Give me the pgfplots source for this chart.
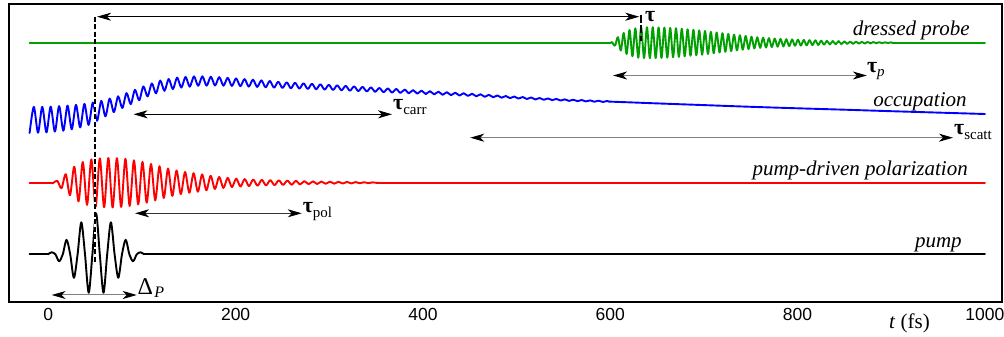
\documentclass[border=0pt]{standalone}
\usepackage{pgfplots}
\pgfplotsset{compat=1.18}
\usepackage{fontspec}
\setmainfont{Liberation Serif}
\newfontfamily\ticksfont{Liberation Sans}
\usetikzlibrary{arrows.meta}
\definecolor{pgreen}{RGB}{0,160,0}
\newcommand{\tausym}{{\fontsize{22}{24}\selectfont\bfseries τ}}
\newcommand{\tausub}[1]{\tausym\raisebox{-4.5pt}{\fontsize{15}{16}\selectfont #1}}
\tikzset{dbl/.style={line width=1pt, arrows={Stealth[length=14pt,width=8pt,inset=4pt,color=black]-Stealth[length=14pt,width=8pt,inset=4pt,color=black]}}}
\begin{document}
\begin{tikzpicture}
\path[use as bounding box] (-9pt,-35pt) rectangle (995pt,302pt);
\begin{axis}[at={(0pt,0pt)}, anchor=south west, scale only axis,
  width=992.7pt, height=298pt,
  xmin=-42, xmax=1018, ymin=0, ymax=298, clip=false,
  axis line style={line width=2pt},
  xtick={0,200,400,600,800,1000}, xticklabels={0,200,400,600,800,1000},
  ytick=\empty, major tick length=0pt,
  xticklabel style={font=\fontsize{17.5}{20}\selectfont\ticksfont, anchor=base, yshift=-18pt},
  tr/.style={line width=1.9pt, line join=round, line cap=round}]
% ---- pump ----
\addplot[tr, black] coordinates {(-20,47.7) (-0.35,47.7)};
\addplot[tr, black, smooth] coordinates {(-0.35,47.7) (3.6,49.7) (7.55,47.7) (11.5,40.7) (15.45,47.7) (19.4,62.2) (23.35,47.7) (27.3,24.2) (31.25,47.7) (35.2,79.7) (39.15,47.7) (43.1,9.2) (47.05,47.7) (51,88.7) (54.95,47.7) (58.9,9.2) (62.85,47.7) (66.8,79.7) (70.75,47.7) (74.7,24.2) (78.65,47.7) (82.6,62.2) (86.55,47.7) (90.5,40.7) (94.45,47.7) (98.4,49.7) (102.35,47.7)};
\addplot[tr, black] coordinates {(102.35,47.7) (1000,47.7)};
% ---- polarization ----
\addplot[tr, red] coordinates {(-20,119.3) (2.7,119.3)};
\addplot[tr, red, smooth] coordinates {(2.7,119.3) (4.95,118.8) (9.5,121.3) (14.05,113.8) (18.6,127.8) (23.15,106.8) (27.7,135.3) (32.25,100.6) (36.8,140.0) (41.35,97.1) (45.9,142.6) (50.45,95.3) (55,143.6) (59.55,94.8) (64.1,144.0) (68.65,94.6) (73.2,143.8) (77.75,95.1) (82.3,143.1) (86.85,96.1) (91.4,141.7) (95.95,97.6) (100.5,140.1) (105.05,99.3) (109.6,138.1) (114.15,101.6) (118.7,135.8) (123.25,104.0) (127.8,133.5) (132.35,106.1) (136.9,131.5) (141.45,107.9) (146,130.0) (150.55,109.2) (155.1,128.8) (159.65,110.3) (164.2,127.6) (168.75,111.7) (173.3,126.2) (177.85,113.0) (182.4,125.1) (186.95,114.0) (191.5,124.2) (196.05,114.9) (200.6,123.4) (205.15,115.45) (209.7,122.9) (214.25,115.95) (218.8,122.45) (223.35,116.3) (227.9,122.15) (232.45,116.6) (237,121.85) (241.55,116.85) (246.1,121.65) (250.65,117.1) (255.2,121.4) (259.75,117.3) (264.3,121.15) (268.85,117.6) (273.4,120.9) (277.95,117.8) (282.5,120.7) (287.05,118.0) (291.6,120.5) (296.15,118.2) (300.7,120.3) (305.25,118.35) (309.8,120.2) (314.35,118.5) (318.9,120.05) (323.45,118.6) (328,119.9) (332.55,118.8) (337.1,119.75) (341.65,118.9) (346.2,119.6) (350.75,119.1) (353,119.3)};
\addplot[tr, red] coordinates {(353,119.3) (1000,119.3)};
% ---- occupation ----
\addplot[tr, blue, smooth] coordinates {(-20,169.0) (-15.5,195.1) (-11,169.3) (-6.5,195.2) (-2,169.6) (2.5,195.4) (7,170.4) (11.5,195.9) (16,171.3) (20.5,196.4) (25,172.7) (29.5,197.2) (34,174.6) (38.5,198.1) (43,177.1) (47.5,199.4) (52,181.2) (56.5,201.1) (61,185.7) (65.5,203.4) (70,189.9) (74.5,205.7) (79,194.0) (83.5,208.9) (88,197.9) (92.5,212.2) (97,201.7) (101.5,215.6) (106,205.5) (110.5,218.6) (115,208.6) (119.5,221.5) (124,211.1) (128.5,223.0) (133,212.9) (137.5,224.4) (142,214.4) (146.5,225.1) (151,215.3) (155.5,225.6) (160,216.2) (164.5,225.65) (169,216.3) (173.5,225.3) (178,216.5) (182.5,224.9) (187,216.3) (191.5,224.2) (196,216.1) (200.5,223.6) (205,215.8) (209.5,222.9) (214,215.4) (218.5,222.3) (223,215.1) (227.5,221.6) (232,214.7) (236.5,221.0) (241,214.4) (245.5,220.3) (250,214.0) (254.5,219.7) (259,213.7) (263.5,219.25) (268,213.35) (272.5,218.75) (277,213.0) (281.5,218.25) (286,212.7) (290.5,217.75) (295,212.4) (299.5,217.2) (304,212.05) (308.5,216.7) (313,211.7) (317.5,216.15) (322,211.3) (326.5,215.6) (331,210.95) (335.5,215.1) (340,210.6) (344.5,214.55) (349,210.25) (353.5,214.0) (358,209.85) (362.5,213.5) (367,209.5) (371.5,212.95) (376,209.1) (380.5,212.45) (385,208.75) (389.5,211.9) (394,208.35) (398.5,211.4) (403,207.95) (407.5,210.85) (412,207.6) (416.5,210.35) (421,207.2) (425.5,209.8) (430,206.85) (434.5,209.3) (439,206.45) (443.5,208.8) (448,206.1) (452.5,208.25) (457,205.65) (461.5,207.7) (466,205.2) (470.5,207.15) (475,204.75) (479.5,206.55) (484,204.3) (488.5,206.0) (493,203.85) (497.5,205.45) (502,203.4) (506.5,204.95) (511,203.0) (515.5,204.5) (520,202.6) (524.5,204.0) (529,202.25) (533.5,203.55) (538,201.85) (542.5,203.1) (547,201.45) (551.5,202.65) (556,201.1) (560.5,202.3) (565,200.85) (569.5,201.95) (574,200.6) (578.5,201.6) (583,200.3) (587.5,201.3) (592,200.05) (596.5,200.95) (598.75,200.4)};
\addplot[tr, blue, smooth] coordinates {(598.75,200.4) (625,199.5) (650,198.6) (700,196.9) (750,195.2) (800,193.7) (850,192.3) (900,190.8) (950,189.4) (1000,188)};
% ---- dressed probe ----
\addplot[tr, pgreen] coordinates {(-20,259.3) (600.5,259.3)};
\addplot[tr, pgreen, smooth] coordinates {(600.5,259.3) (602,259.9) (605.1,256.3) (608.2,264.9) (611.3,251.5) (614.4,269.0) (617.5,248.0) (620.6,272.0) (623.7,245.7) (626.8,273.7) (629.9,244.3) (633,274.5) (636.1,243.9) (639.2,274.8) (642.3,243.8) (645.4,274.8) (648.5,243.9) (651.6,274.6) (654.7,244.0) (657.8,274.4) (660.9,244.3) (664,274.1) (667.1,244.7) (670.2,273.8) (673.3,245.1) (676.4,273.3) (679.5,245.6) (682.6,272.7) (685.7,246.2) (688.8,272.2) (691.9,246.7) (695,271.6) (698.1,247.3) (701.2,271.0) (704.3,248.0) (707.4,270.2) (710.5,248.7) (713.6,269.5) (716.7,249.5) (719.8,268.8) (722.9,250.2) (726,268.1) (729.1,250.9) (732.2,267.4) (735.3,251.6) (738.4,266.7) (741.5,252.3) (744.6,266.0) (747.7,252.9) (750.8,265.4) (753.9,253.5) (757,264.8) (760.1,254.1) (763.2,264.3) (766.3,254.5) (769.4,263.9) (772.5,254.9) (775.6,263.5) (778.7,255.3) (781.8,263.1) (784.9,255.6) (788,262.8) (791.1,255.9) (794.2,262.6) (797.3,256.2) (800.4,262.3) (803.5,256.4) (806.6,262.05) (809.7,256.65) (812.8,261.85) (815.9,256.85) (819,261.65) (822.1,257.05) (825.2,261.4) (828.3,257.3) (831.4,261.2) (834.5,257.5) (837.6,261.0) (840.7,257.7) (843.8,260.85) (846.9,257.85) (850,260.7) (853.1,258.0) (856.2,260.5) (859.3,258.15) (862.4,260.35) (865.5,258.3) (868.6,260.2) (871.7,258.45) (874.8,260.05) (877.9,258.6) (881,259.95) (884.1,258.75) (887.2,259.8) (890.3,258.85) (893.4,259.7) (896.5,258.95) (899.6,259.6) (901.2,259.3)};
\addplot[tr, pgreen] coordinates {(901.2,259.3) (1000,259.3)};
% ---- dashed markers ----
\draw[white, line width=1.6pt] (axis cs:50,285.3) -- (axis cs:50,38);
\draw[black, line width=1.6pt, dash pattern=on 5pt off 2.5pt] (axis cs:50,285.3) -- (axis cs:50,38);
\draw[black, line width=1.4pt, dash pattern=on 8pt off 2.5pt] (axis cs:633,287) -- (axis cs:633,261);
% ---- arrows ----
\draw[dbl, black] (axis cs:52,285.3) -- (axis cs:631,285.3);
\draw[dbl, black!50] (axis cs:603,226.5) -- (axis cs:874,226.5);
\draw[dbl, black] (axis cs:91,187.7) -- (axis cs:367,187.7);
\draw[dbl, black!50] (axis cs:450.5,164.3) -- (axis cs:966,164.3);
\draw[dbl, black!80] (axis cs:92.6,88.7) -- (axis cs:270.6,88.7);
\draw[dbl, black!50] (axis cs:3.6,7) -- (axis cs:94.4,7);
% ---- labels ----
\node[anchor=base west, inner sep=0pt] at (axis cs:637,280) {\tausym};
\node[anchor=base west, inner sep=0pt] at (axis cs:874,229.5) {\tausub{\itshape p}};
\node[anchor=base west, inner sep=0pt] at (axis cs:368,192) {\tausub{carr}};
\node[anchor=base west, inner sep=0pt] at (axis cs:967,167) {\tausub{scatt}};
\node[anchor=base west, inner sep=0pt] at (axis cs:271.5,89) {\tausub{pol}};
\node[anchor=base west, inner sep=0pt] at (axis cs:95,7) {{\fontsize{24}{26}\selectfont Δ}\hspace{1.5pt}\raisebox{-3pt}{\fontsize{16}{18}\selectfont\itshape P}};
\node[anchor=base east, inner sep=0pt, font=\fontsize{21}{24}\selectfont\itshape] at (axis cs:984,266) {dressed probe};
\node[anchor=base east, inner sep=0pt, font=\fontsize{21}{24}\selectfont\itshape] at (axis cs:980.7,195.5) {occupation};
\node[anchor=base east, inner sep=0pt, font=\fontsize{21}{24}\selectfont\itshape] at (axis cs:982,126) {pump-driven polarization};
\node[anchor=base east, inner sep=0pt, font=\fontsize{21}{24}\selectfont\itshape] at (axis cs:975.5,54) {pump};
\node[anchor=base, inner sep=0pt, font=\fontsize{21}{24}\selectfont] at (axis cs:919.5,-27) {\textit{t} (fs)};
\end{axis}
\end{tikzpicture}
\end{document}
